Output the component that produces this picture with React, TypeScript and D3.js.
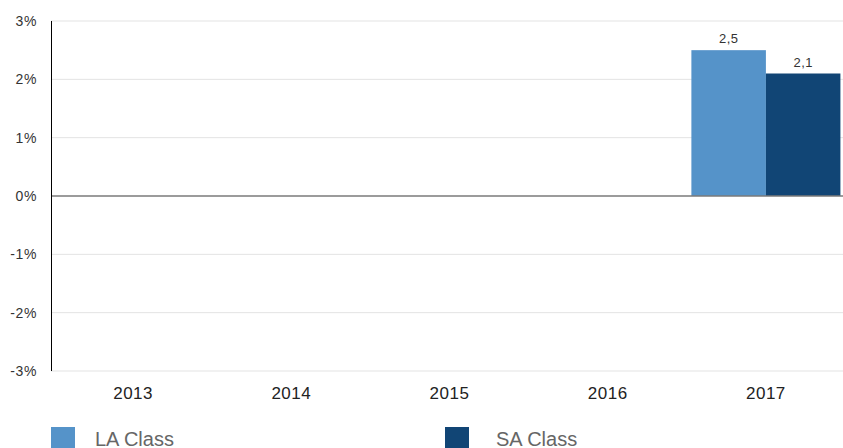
import React from "react";
import * as d3 from "d3";

const categories = ["2013", "2014", "2015", "2016", "2017"];
const seriesNames = ["LA Class", "SA Class"];
const laValues: (number | null)[] = [null, null, null, null, 2.5];
const saValues: (number | null)[] = [null, null, null, null, 2.1];
const yTicks = [-3, -2, -1, 0, 1, 2, 3];
const colors = ["#5593c9", "#114575"];

export default function App() {
  const W = 843, H = 448;
  const left = 51, right = 843, top = 21, bottom = 371;
  const font = "'Liberation Sans', Arial, Helvetica, sans-serif";
  const x = d3.scaleBand().domain(categories).range([54, 845]).paddingInner(0.058).paddingOuter(0.029);
  const inner = d3.scaleBand().domain(seriesNames).range([0, x.bandwidth()]);
  const y = d3.scaleLinear().domain([-3, 3]).range([bottom, top]);
  const series = [laValues, saValues];
  const legendBox = [51, 445];
  const legendText = [95, 496];
  return (
    <svg width={W} height={H} style={{ position: "absolute", left: 0, top: 0 }}>
      <rect width={W} height={H} fill="#fff" />
      {yTicks.map((t) => (
        <g key={t}>
          {t !== 0 && (
            <line x1={left} x2={right} y1={y(t)} y2={y(t)} stroke="#e3e3e3" strokeWidth={1} />
          )}
          <text x={37} y={y(t)} dy="0.35em" textAnchor="end" fontFamily={font} fontSize={14} letterSpacing={0.6} fill="#333">
            {`${t}%`}
          </text>
        </g>
      ))}
      {series.map((vals, si) =>
        vals.map((v, ci) => {
          if (v == null) return null;
          const bx = (x(categories[ci]) ?? 0) + (inner(seriesNames[si]) ?? 0);
          const bw = inner.bandwidth();
          return (
            <g key={`${si}-${ci}`}>
              <rect x={bx} y={y(v)} width={bw} height={y(0) - y(v)} fill={colors[si]} />
              <text x={bx + bw / 2} y={y(v) - 7} textAnchor="middle" fontFamily={font} fontSize={13} letterSpacing={0.4} fill="#333">
                {String(v).replace(".", ",")}
              </text>
            </g>
          );
        })
      )}
      <line x1={left} x2={right} y1={y(0)} y2={y(0)} stroke="#7a7a7a" strokeWidth={1.6} />
      <line x1={left + 0.5} x2={left + 0.5} y1={top} y2={bottom} stroke="#000" strokeWidth={1} />
      {categories.map((c) => (
        <text key={c} x={(x(c) ?? 0) + x.bandwidth() / 2} y={393} dy="0.35em" textAnchor="middle" fontFamily={font} fontSize={17} letterSpacing={0.5} fill="#222">
          {c}
        </text>
      ))}
      {seriesNames.map((s, i) => (
        <g key={s}>
          <rect x={legendBox[i]} y={427} width={24} height={22} fill={colors[i]} />
          <text x={legendText[i]} y={439} dy="0.35em" fontFamily={font} fontSize={20} fill="#666">
            {s}
          </text>
        </g>
      ))}
    </svg>
  );
}
